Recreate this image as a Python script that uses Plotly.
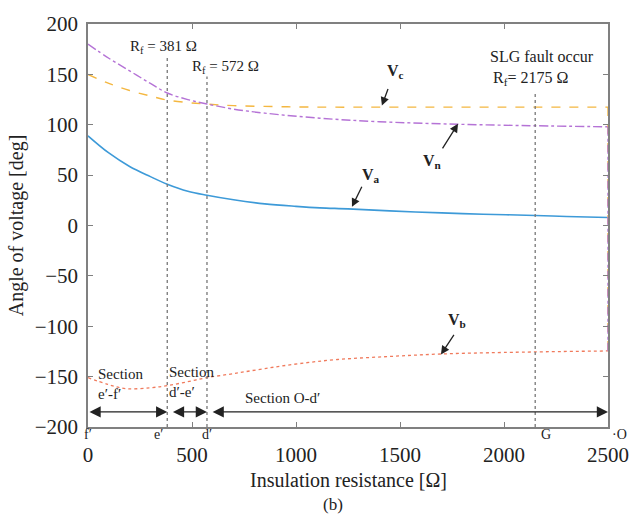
import plotly.graph_objects as go

# ---- data ----
va_x = [0, 100, 200, 300, 381, 480, 572, 700, 850, 1000, 1115, 1250, 1450, 1700, 1900, 2150, 2300, 2500]
va_y = [89, 72, 58.6, 48.5, 41, 34, 30, 25.5, 21.5, 19, 17.5, 16.5, 14.5, 12.5, 11.2, 10, 9, 8]

vc_x = [0, 100, 200, 300, 381, 480, 572, 700, 900, 1115, 1500, 2000, 2500]
vc_y = [150, 141, 134, 128.5, 124.5, 122, 120.5, 119, 118, 117.5, 117.5, 117.5, 117.5]

vn_x = [0, 100, 200, 300, 381, 480, 572, 700, 850, 1115, 1400, 1779, 2150, 2500]
vn_y = [180, 166, 153.5, 141, 131.5, 125, 120.6, 115.5, 111.5, 106.5, 103, 100.5, 99, 98]

vb_x = [0, 100, 187, 300, 381, 480, 572, 700, 850, 1019, 1200, 1450, 1700, 2000, 2500]
vb_y = [-151, -158, -162, -161, -159, -155, -151, -147, -142, -137, -133, -130, -127.5, -126, -124.5]

fault_x = [381, 572, 2150]
fault_top = [169, 148, 132]
section_bounds = [0, 381, 572, 2500]
point_labels = ["f′", "e′", "d′", "G", "·O"]
point_x = [0, 381, 572, 2150, 2500]

SERIF = "Liberation Serif, Times New Roman, serif"

fig = go.Figure()
fig.add_trace(go.Scatter(x=va_x, y=va_y, mode="lines", line=dict(color="#3d9ad8", width=1.6, shape="spline", smoothing=1.0)))
fig.add_trace(go.Scatter(x=vc_x, y=vc_y, mode="lines", line=dict(color="#f4b740", width=1.4, dash="dash", shape="spline", smoothing=1.0)))
fig.add_trace(go.Scatter(x=vn_x, y=vn_y, mode="lines", line=dict(color="#b573d6", width=1.4, dash="dashdot", shape="spline", smoothing=1.0)))
fig.add_trace(go.Scatter(x=vb_x, y=vb_y, mode="lines", line=dict(color="#f07a5c", width=1.3, dash="dot", shape="spline", smoothing=1.0)))
# vertical drop of the curves at the end of the sweep
fig.add_trace(go.Scatter(x=[vc_x[-1], vc_x[-1]], y=[vc_y[-1], vb_y[-1]], mode="lines",
                         line=dict(color="#f4b740", width=1.4, dash="dash")))
fig.add_trace(go.Scatter(x=[vn_x[-1], vn_x[-1]], y=[vn_y[-1], vb_y[-1]], mode="lines",
                         line=dict(color="#b573d6", width=1.4, dash="dashdot")))

shapes = []
for fx, ft in zip(fault_x, fault_top):
    shapes.append(dict(type="line", xref="x", yref="y", x0=fx, x1=fx, y0=-200, y1=ft,
                       line=dict(color="#777777", width=1.3, dash="dot")))

ann = []
arrow_y = -185
gaps = [0, 20, 20]
for i in range(3):
    ann.append(dict(x=section_bounds[i + 1], y=arrow_y, ax=section_bounds[i] + gaps[i], ay=arrow_y,
                    xref="x", yref="y", axref="x", ayref="y", text="", showarrow=True,
                    arrowhead=2, arrowsize=1.6, arrowwidth=1.4, arrowcolor="#222222",
                    arrowside="end+start", startarrowhead=2, startarrowsize=1.6))

def txt(x, y, t, size=14, xanchor="center", yanchor="middle"):
    ann.append(dict(x=x, y=y, xref="x", yref="y", text=t, showarrow=False,
                    font=dict(family=SERIF, size=size, color="#222222"),
                    xanchor=xanchor, yanchor=yanchor, align="left"))

txt(40, -157, "Section<br>e′-f′", size=15, xanchor="left")
txt(378, -155, "Section<br>d′-e′", size=15, xanchor="left")
txt(935, -171, "Section O-d′", size=15)
txt(361, 177, "R<sub>f</sub> = 381 Ω", size=15)
txt(663, 157, "R<sub>f</sub> = 572 Ω", size=15)
txt(2183, 168, "SLG fault occur", size=16)
txt(2125, 146, "R<sub>f</sub>= 2175 Ω", size=16)

label_shift = {"f′": (0, "center"), "e′": (-2, "right"), "d′": (0, "center"), "G": (4, "left"), "·O": (2, "left")}
for lx, lt in zip(point_x, point_labels):
    sh, anc = label_shift[lt]
    ann.append(dict(x=lx, y=-200, xref="x", yref="y", text=lt, showarrow=False,
                    font=dict(family=SERIF, size=14, color="#222222"),
                    xanchor=anc, yanchor="top", xshift=sh, yshift=2))

def vlabel(tx, ty, hx, hy, sub, lx, ly):
    ann.append(dict(x=hx, y=hy, ax=tx, ay=ty, xref="x", yref="y", axref="x", ayref="y",
                    text="", showarrow=True, arrowhead=2, arrowsize=1.3, arrowwidth=1.3,
                    arrowcolor="#222222"))
    txt(lx, ly, "<b>V</b><sub><b>" + sub + "</b></sub>", size=16)

vlabel(1445, 137, 1413, 119, "c", 1480, 153)
vlabel(1700, 75, 1779, 101, "n", 1655, 64)
vlabel(1320, 40, 1269, 18.5, "a", 1360, 50)
vlabel(1764, -107, 1697, -128, "b", 1775, -94)

fig.update_layout(
    width=643, height=521,
    margin=dict(l=88, r=35, t=19, b=94),
    plot_bgcolor="white", paper_bgcolor="white",
    showlegend=False,
    shapes=shapes, annotations=ann,
    font=dict(family=SERIF, size=18, color="#222222"),
)
fig.add_annotation(x=0.5, y=-0.1, xref="paper", yref="paper", text="Insulation resistance [Ω]",
                   showarrow=False, font=dict(family=SERIF, size=20), yanchor="top")
fig.add_annotation(x=0.5, y=-0.165, xref="paper", yref="paper", text="(b)",
                   showarrow=False, font=dict(family=SERIF, size=17), yanchor="top", xshift=-15)
fig.update_xaxes(range=[0, 2500], tickvals=[0, 500, 1000, 1500, 2000, 2500],
                 showline=True, mirror="ticks", linecolor="#808080", linewidth=1.5,
                 ticks="inside", ticklen=5, tickcolor="#808080", showgrid=False, zeroline=False,
                 ticklabelstandoff=8,
                 tickfont=dict(family=SERIF, size=21))
fig.update_yaxes(range=[-200, 200], tickvals=[-200, -150, -100, -50, 0, 50, 100, 150, 200],
                 ticktext=["−200", "−150", "−100", "−50", "0", "50", "100", "150", "200"],
                 showline=True, mirror="ticks", linecolor="#808080", linewidth=1.5,
                 ticks="inside", ticklen=5, tickcolor="#808080", showgrid=False, zeroline=False,
                 ticklabelstandoff=4,
                 tickfont=dict(family=SERIF, size=21),
                 title=dict(text="Angle of voltage [deg]", font=dict(family=SERIF, size=20), standoff=6))

fig.write_html("out.html")
